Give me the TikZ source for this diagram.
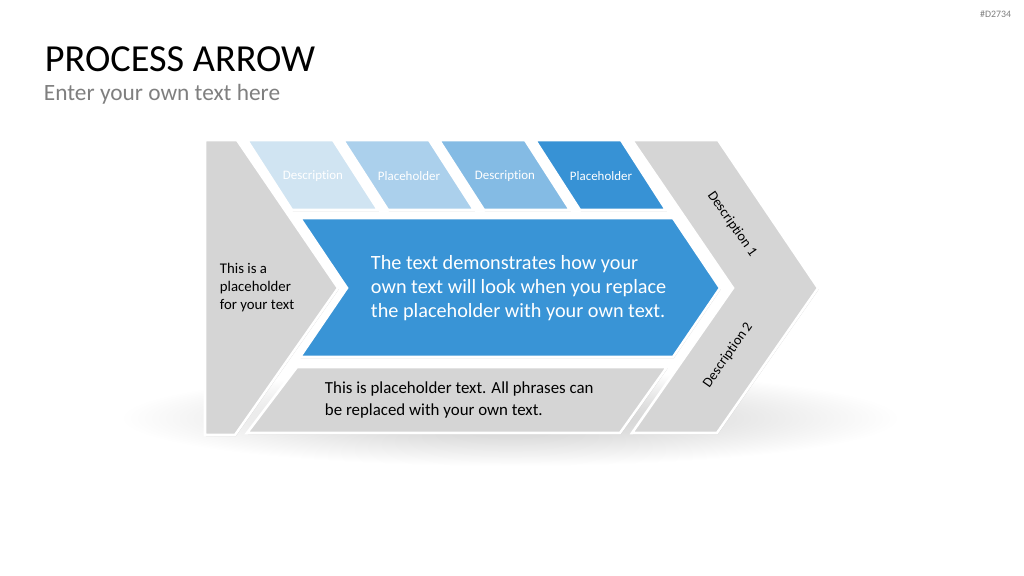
\documentclass[tikz,border=0pt]{standalone}
\usepackage{fontspec}
\setmainfont{Carlito}[Ligatures=NoCommon]
\usetikzlibrary{shadows}
\definecolor{pagray}{HTML}{D5D5D5}
\definecolor{pablue}{HTML}{3994D6}
\definecolor{pastepa}{HTML}{D0E4F2}
\definecolor{pastepb}{HTML}{ABD0EC}
\definecolor{pastepc}{HTML}{84BBE4}
\definecolor{pastepd}{HTML}{3792D5}
\definecolor{pasub}{HTML}{7F7F7F}
\tikzset{
  piece/.style={draw=white, line width=1.8pt, line join=miter,
    drop shadow={opacity=0.3, shadow xshift=0.6pt, shadow yshift=-0.9pt}},
  steplabel/.style={text=white, font=\fontsize{9.2}{11}\selectfont},
  bodytext/.style={align=left, anchor=west}
}

\begin{document}
\begin{tikzpicture}[x=0.025cm, y=-0.025cm]
  \useasboundingbox[fill=white] (0,0) rectangle (1024,576);

  % shadow under the arrow
  \shade[inner color=black!22, outer color=white] (510,418) ellipse (390 and 48);

  % gray parts
  \path[piece, fill=pagray] (205,140) -- (237,140) -- (338,288) -- (235,435) -- (205,435) -- cycle;
  \path[piece, fill=pagray] (632,140) -- (718,140) -- (818,288) -- (717,433) -- (632,433) -- (733,288) -- cycle;
  \path[piece, fill=pagray] (297,367) -- (667,367) -- (620,433) -- (247,433) -- cycle;

  % top steps
  \foreach \c [count=\i from 0] in {pastepa,pastepb,pastepc,pastepd}
    \path[piece, fill=\c] (247+96*\i,140) -- ++(86,0) -- ++(45,70) -- ++(-86,0) -- cycle;

  % main arrow
  \path[piece, fill=pablue] (300,218) -- (673,218) -- (720,288) -- (673,357) -- (300,357) -- (347,288) -- cycle;

  % texts
  \node[anchor=base west, font=\fontsize{27.2}{32}\selectfont] (title) at (40,72) {PROCESS ARROW};
  \node[anchor=base west, text=pasub, font=\fontsize{16.6}{20}\selectfont] (subtitle) at (39,101) {Enter your own text here};
  \node[anchor=east, text=pasub, font=\fontsize{7}{8}\selectfont] (code) at (1016,14) {\#D2734};

  \node[steplabel] (stepa) at (313,176) {Description};
  \node[steplabel] (stepb) at (409,176) {Placeholder};
  \node[steplabel] (stepc) at (505,176) {Description};
  \node[steplabel] (stepd) at (601,176) {Placeholder};

  \node[bodytext, text=white, font=\fontsize{14.4}{17.2}\selectfont] (maintext) at (366,288)
    {The text demonstrates how your\\own text will look when you replace\\the placeholder with your own text.};
  \node[bodytext, font=\fontsize{10.5}{12.8}\selectfont] (lefttext) at (215,288)
    {This is a\\placeholder\\for your text};
  \node[bodytext, font=\fontsize{12}{15}\selectfont] (bottomtext) at (320,400)
    {This is placeholder text. All phrases can\\be replaced with your own text.};
  \node[rotate=-55, font=\fontsize{10}{12}\selectfont] (descone) at (732,224) {Description 1};
  \node[rotate=55, font=\fontsize{10}{12}\selectfont] (desctwo) at (728,355) {Description 2};
\end{tikzpicture}
\end{document}
